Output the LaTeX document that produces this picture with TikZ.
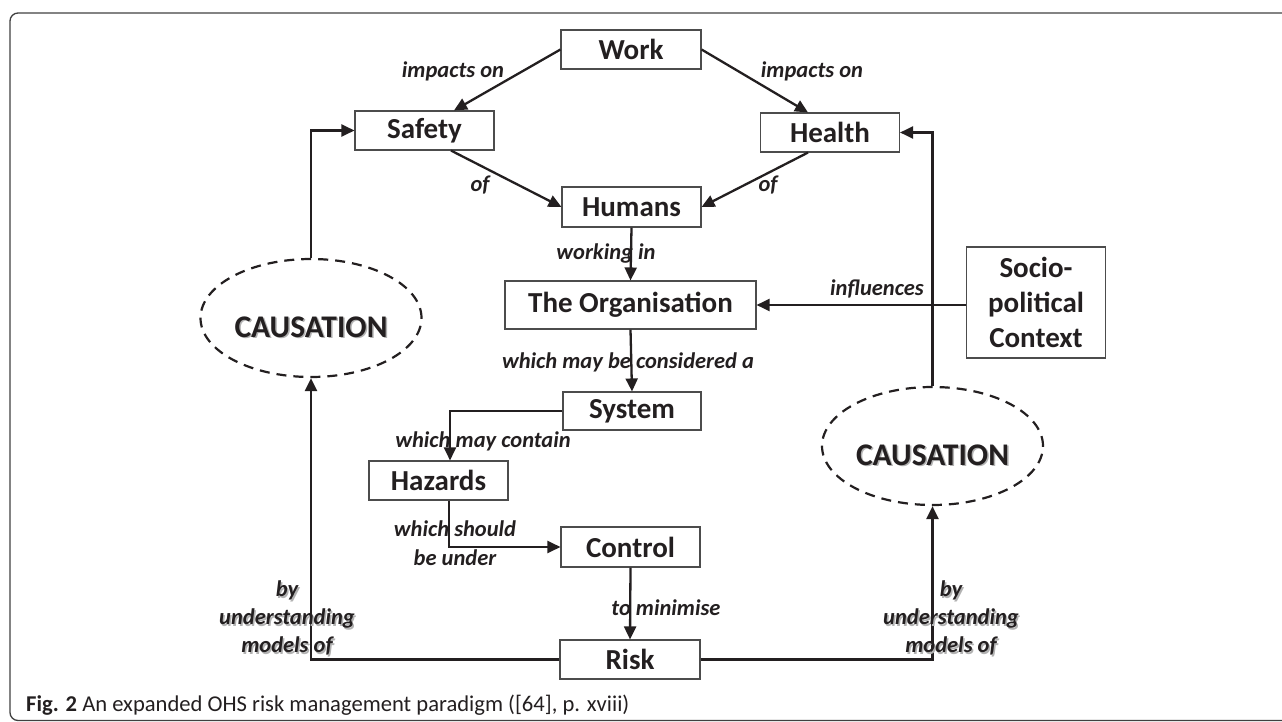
\documentclass[tikz,border=0pt]{standalone}
\usepackage{fontspec}
\setmainfont{Carlito}
\usetikzlibrary{arrows.meta,shapes.geometric,calc}
\definecolor{ink}{HTML}{231F20}
\begin{document}
\begin{tikzpicture}[x=1pt,y=-1pt,
  box/.style={draw=black!70, line width=1.1pt, minimum width=139pt, minimum height=39pt, inner sep=0pt,
    font=\fontsize{29}{35}\selectfont\bfseries, text=ink, align=center},
  lbl/.style={font=\fontsize{22.5}{28}\selectfont\bfseries\itshape, text=ink, inner sep=0pt, align=center},
  shadowlbl/.style={lbl, text=black!30},
  conn/.style={draw=ink, line width=2.3pt, -{Triangle[length=13pt,width=12pt]}},
  cause/.style={ellipse, draw=ink, line width=2.2pt, dash pattern=on 10pt off 7pt, minimum width=221pt, minimum height=118pt, inner sep=0pt},
  causetext/.style={font=\fontsize{31.5}{36}\selectfont\bfseries, text=ink, inner sep=0pt},
  causeshadow/.style={causetext, text=black!30}
]
\useasboundingbox (0,0) rectangle (1282,722);
\clip (0,0) rectangle (1282,722);
\draw[draw=black!75, line width=1.3pt, rounded corners=8pt] (10,13) rectangle (1300,720.5);

% nodes
\node[box, minimum width=140pt] (work) at (631,49.5) {Work};
\node[box] (safety) at (424.5,130.5) {Safety};
\node[box] (health) at (830,132.5) {Health};
\node[box, minimum height=40pt] (humans) at (631.5,207) {Humans};
\node[box, minimum width=251pt, minimum height=48pt] (org) at (630.5,305) {The Organisation};
\node[box, minimum height=111pt] (socio) at (1036,302.5) {Socio-\\political\\Context};
\node[box, minimum width=138pt, minimum height=38pt] (system) at (632,411) {System};
\node[box] (hazards) at (438.5,480.5) {Hazards};
\node[box, minimum height=40pt] (control) at (630.5,547) {Control};
\node[box, minimum width=140pt] (risk) at (630,659.5) {Risk};

\node[cause] (lc) at (311,318) {};
\node[cause] (rc) at (932.5,446) {};
\node[causeshadow] at ([xshift=1.5pt,yshift=-10.5pt]lc.center) {CAUSATION};
\node[causetext] (lct) at ([yshift=-9pt]lc.center) {CAUSATION};
\node[causeshadow] at ([xshift=1.5pt,yshift=-10.5pt]rc.center) {CAUSATION};
\node[causetext] (rct) at ([yshift=-9pt]rc.center) {CAUSATION};

% connectors
\draw[conn] (work.west) -- ([xshift=29.5pt]safety.north);
\draw[conn] (work.east) -- ([xshift=-22pt]health.north);
\draw[conn] ([xshift=26.5pt]safety.south) -- (humans.west);
\draw[conn] ([xshift=-22pt]health.south) -- (humans.east);
\draw[conn] (humans.south) -- (org.north);
\draw[conn] (org.south) -- (system.north);
\draw[conn] (system.west) -| ([xshift=11.5pt]hazards.north);
\draw[conn] ([xshift=10.5pt]hazards.south) |- (control.west);
\draw[conn] (control.south) -- (risk.north);
\draw[conn] (risk.west) -| (lc.south);
\draw[conn] (risk.east) -| (rc.south);
\draw[conn] (lc.north) |- (safety.west);
\draw[conn] (rc.north) |- (health.east);
\draw[conn] (socio.west |- org.east) -- (org.east);

% labels
\node[lbl] (l1) at (453,71) {impacts on};
\node[lbl] (l2) at (812,71) {impacts on};
\node[lbl] (l3) at (480,185) {of};
\node[lbl] (l4) at (768,185) {of};
\node[lbl] (l5) at (606,254) {working in};
\node[lbl] (l6) at (628,362) {which may be considered a};
\node[lbl] (l7) at (483,441) {which may contain};
\node[lbl, font=\fontsize{22.5}{29}\selectfont\bfseries\itshape] (l8) at (455,543.5) {which should\\be under};
\node[lbl] (l9) at (666,608) {to minimise};
\node[lbl] (l10) at (877,289) {influences};
\node[shadowlbl] at (288.5,619.5) {by\\understanding\\models of};
\node[lbl] (l11) at (287,618) {by\\understanding\\models of};
\node[shadowlbl] at (952.5,619.5) {by\\understanding\\models of};
\node[lbl] (l12) at (951,618) {by\\understanding\\models of};

% caption
\node[anchor=west, inner sep=0pt, text=ink, font=\fontsize{22.6}{26}\selectfont] (cap) at (26,705)
  {\textbf{Fig. 2} An expanded OHS risk management paradigm ([64], p. xviii)};
\end{tikzpicture}
\end{document}
